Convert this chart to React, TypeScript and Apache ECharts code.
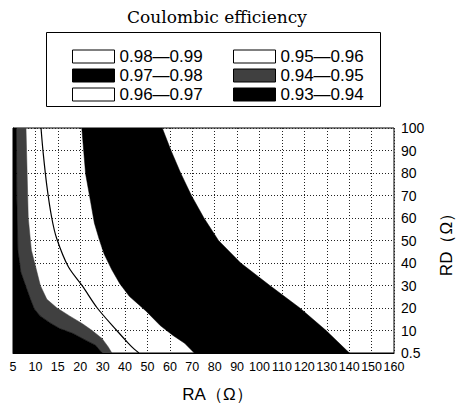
import React, { useEffect, useRef } from 'react';
import * as echarts from 'echarts';

// Axis tick labels (RA is plotted on equally spaced category positions 0..17)
const xTickLabels = ['5', '10', '15', '20', '30', '40', '50', '60', '70', '80', '90', '100', '110', '120', '130', '140', '150', '160'];
const yTickLabels = ['0.5', '10', '20', '30', '40', '50', '60', '70', '80', '90', '100'];

const legendLeft = ['0.98—0.99', '0.97—0.98', '0.96—0.97'];
const legendRight = ['0.95—0.96', '0.94—0.95', '0.93—0.94'];

// Boundaries as [RA position index, RD], top to bottom
const boundary93_94: number[][] = [
  [0.15, 100], [0.17, 68.7], [0.22, 45.7], [0.35, 36], [0.56, 30], [0.78, 23.9],
  [0.95, 19.6], [1.21, 16.5], [1.64, 13.5], [2.08, 10.9], [2.68, 8.7], [3.24, 5.7],
  [3.68, 3.5], [3.98, 0],
];
const boundary94_95: number[][] = [
  [0.58, 100], [0.68, 60], [0.82, 45.7], [1.01, 38.3], [1.22, 30], [1.51, 23.9],
  [1.95, 20.1], [2.52, 16.5], [3.1, 13], [3.53, 10], [3.97, 6.5], [4.25, 2.7], [4.41, 0],
];
const boundary95_96: number[][] = [
  [1.25, 100], [1.34, 89.6], [1.51, 74.3], [1.73, 60], [1.95, 50.9], [2.47, 38.3],
  [3.11, 29.6], [3.76, 20], [4.63, 10], [5.15, 4.3], [5.41, 1.7], [5.62, 0],
];
const boundary96_97: number[][] = [
  [3.07, 100], [3.24, 79.6], [3.46, 67.4], [3.63, 57.8], [3.85, 50.4], [4.07, 43.9],
  [4.41, 37], [4.76, 30.9], [5.19, 25.2], [5.93, 18.7], [6.57, 12.2], [7.14, 7.8],
  [7.66, 4.3], [8.09, 0],
];
const boundary97_98: number[][] = [
  [6.66, 100], [7.05, 90], [7.48, 80], [7.96, 70], [8.52, 60], [9.17, 50],
  [10.16, 40], [11.46, 30], [12.8, 20], [13.97, 10], [15.01, 0],
];

// Region polygons built from the boundaries
const region93_94 = [[0, 100], ...boundary93_94, [0, 0]];
const region94_95 = [...boundary94_95, ...[...boundary93_94].reverse()];
const region97_98 = [...boundary96_97, ...[...boundary97_98].reverse()];

const BLACK = '#000000';
const GRAY = '#404040';
const SANS = "'Liberation Sans', Arial, Helvetica, sans-serif";

function polygonSeries(name: string, pts: number[][], color: string) {
  return {
    type: 'custom',
    name,
    clip: true,
    itemStyle: { color },
    data: pts,
    renderItem: (params: any, api: any) => {
      if (params.dataIndex !== 0) return null;
      return {
        type: 'polygon',
        shape: { points: pts.map((p) => api.coord(p)) },
        style: { fill: color, stroke: color, lineWidth: 0.5 },
      };
    },
  };
}

function emptySeries(name: string) {
  return { type: 'custom', name, itemStyle: { color: '#fff' }, data: [], renderItem: () => null };
}

const legendColors: Record<string, string> = {
  '0.98—0.99': '#ffffff',
  '0.97—0.98': BLACK,
  '0.96—0.97': '#ffffff',
  '0.95—0.96': '#ffffff',
  '0.94—0.95': GRAY,
  '0.93—0.94': BLACK,
};

function legendBlock(names: string[], left: number) {
  return {
    orient: 'vertical',
    left,
    top: 43,
    itemWidth: 42,
    itemHeight: 13,
    itemGap: 2,
    icon: 'rect',
    selectedMode: false,
    textStyle: { fontSize: 17, lineHeight: 17, color: '#000', fontFamily: SANS },
    data: names.map((n) => ({
      name: n,
      itemStyle: { color: legendColors[n], borderColor: '#000', borderWidth: 1 },
    })),
  };
}

export default function App() {
  const ref = useRef<HTMLDivElement>(null);
  useEffect(() => {
    const chart = echarts.init(ref.current!, null, { renderer: 'svg' });
    const option: any = {
      animation: false,
      backgroundColor: '#ffffff',
      graphic: [
        {
          type: 'text',
          x: 217,
          y: 17,
          style: {
            text: 'Coulombic efficiency',
            textAlign: 'center',
            textVerticalAlign: 'middle',
            fontSize: 17,
            fontFamily: "'DejaVu Serif', 'Liberation Serif', serif",
            fill: '#000',
          },
        },
        {
          type: 'rect',
          shape: { x: 46.5, y: 32.5, width: 334, height: 74 },
          style: { fill: 'none', stroke: '#000', lineWidth: 1 },
        },
      ],
      legend: [legendBlock(legendLeft, 67), legendBlock(legendRight, 228)],
      grid: {
        left: 13,
        right: 57,
        top: 128,
        bottom: 50,
        show: true,
        borderColor: '#000',
        borderWidth: 1,
        backgroundColor: 'transparent',
      },
      xAxis: {
        type: 'value',
        min: 0,
        max: 17,
        interval: 1,
        name: 'RA（Ω）',
        nameLocation: 'middle',
        nameGap: 33,
        nameTextStyle: { fontSize: 17, color: '#000', fontFamily: SANS, padding: [0, 0, 0, 28] },
        axisLine: { show: true, lineStyle: { color: '#000', width: 1 } },
        axisTick: { show: false },
        axisLabel: {
          margin: 7,
          fontSize: 12.5,
          color: '#000',
          fontFamily: SANS,
          formatter: (v: number) => xTickLabels[Math.round(v)] ?? '',
        },
        splitLine: { show: true, lineStyle: { type: [1, 2], color: '#222', width: 1 } },
      },
      yAxis: {
        type: 'value',
        position: 'right',
        min: 0,
        max: 100,
        interval: 10,
        name: 'RD（Ω）',
        nameLocation: 'middle',
        nameGap: 44,
        nameRotate: 90,
        nameTextStyle: { fontSize: 17, color: '#000', fontFamily: SANS },
        axisLine: { show: true, lineStyle: { color: '#000', width: 1 } },
        axisTick: { show: false },
        axisLabel: {
          margin: 7,
          fontSize: 14,
          color: '#000',
          fontFamily: SANS,
          formatter: (v: number) => yTickLabels[Math.round(v / 10)] ?? '',
        },
        splitLine: { show: true, lineStyle: { type: [1, 2], color: '#222', width: 1 } },
      },
      series: [
        emptySeries('0.98—0.99'),
        polygonSeries('0.97—0.98', region97_98, BLACK),
        emptySeries('0.96—0.97'),
        emptySeries('0.95—0.96'),
        polygonSeries('0.94—0.95', region94_95, GRAY),
        polygonSeries('0.93—0.94', region93_94, BLACK),
        {
          type: 'line',
          name: 'boundary 0.96',
          data: boundary95_96,
          symbol: 'none',
          smooth: 0.3,
          lineStyle: { color: '#000', width: 1.2 },
        },
      ],
    };
    chart.setOption(option);
    return () => chart.dispose();
  }, []);
  return (
    <div
      ref={ref}
      style={{ position: 'fixed', left: 0, top: 0, width: 463, height: 408, background: '#fff' }}
    />
  );
}
